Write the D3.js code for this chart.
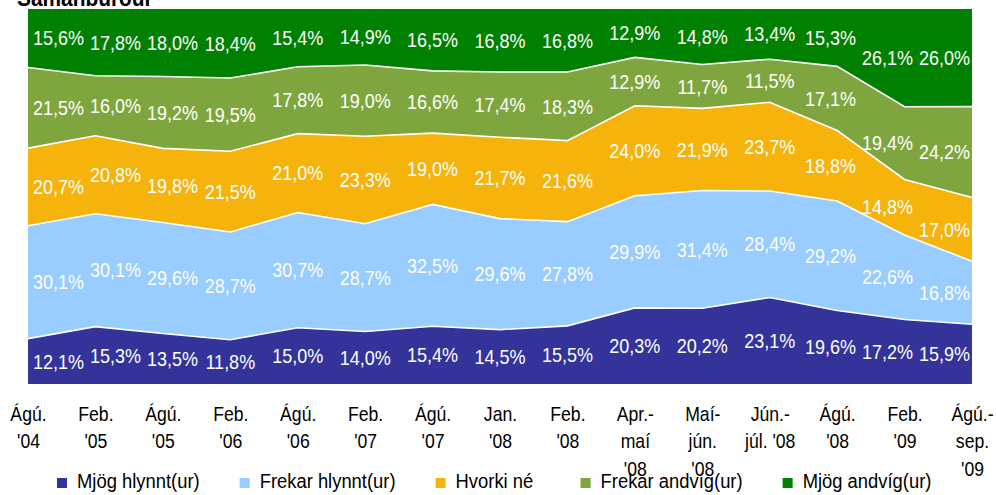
<!DOCTYPE html>
<html>
<head>
<meta charset="utf-8">
<script src="https://cdn.jsdelivr.net/npm/d3@7"></script>
<style>
  body { margin: 0; background: #fff; }
  svg text { font-family: "Liberation Sans", Arial, sans-serif; }
</style>
</head>
<body>
<svg id="chart" width="996" height="495"></svg>
<script>
// x categories (survey periods), each split into its lines
const periods = [
    ["Ágú.", "'04"], ["Feb.", "'05"], ["Ágú.", "'05"], ["Feb.", "'06"], ["Ágú.", "'06"],
    ["Feb.", "'07"], ["Ágú.", "'07"], ["Jan.", "'08"], ["Feb.", "'08"], ["Apr.-", "maí", "'08"],
    ["Maí-", "jún.", "'08"], ["Jún.-", "júl. '08"], ["Ágú.", "'08"], ["Feb.", "'09"], ["Ágú.-", "sep.", "'09"]
];

const seriesNames = ["Mjög hlynnt(ur)", "Frekar hlynnt(ur)", "Hvorki né", "Frekar andvíg(ur)", "Mjög andvíg(ur)"];

// percentages, bottom series first
const mjogHlynnt    = [12.1, 15.3, 13.5, 11.8, 15.0, 14.0, 15.4, 14.5, 15.5, 20.3, 20.2, 23.1, 19.6, 17.2, 15.9];
const frekarHlynnt  = [30.1, 30.1, 29.6, 28.7, 30.7, 28.7, 32.5, 29.6, 27.8, 29.9, 31.4, 28.4, 29.2, 22.6, 16.8];
const hvorkiNe      = [20.7, 20.8, 19.8, 21.5, 21.0, 23.3, 19.0, 21.7, 21.6, 24.0, 21.9, 23.7, 18.8, 14.8, 17.0];
const frekarAndvig  = [21.5, 16.0, 19.2, 19.5, 17.8, 19.0, 16.6, 17.4, 18.3, 12.9, 11.7, 11.5, 17.1, 19.4, 24.2];
const mjogAndvig    = [15.6, 17.8, 18.0, 18.4, 15.4, 14.9, 16.5, 16.8, 16.8, 12.9, 14.8, 13.4, 15.3, 26.1, 26.0];

const seriesValues = [mjogHlynnt, frekarHlynnt, hvorkiNe, frekarAndvig, mjogAndvig];

const title = "Samanburður";

/** 100% stacked area chart */
class StackChart {
    constructor(svg) {
        this.svg = svg;
        this.plot = {left: 28, right: 972, top: 9, bottom: 384};

        // the original text is a bit narrow, squeeze it horizontally
        this.squeeze = 0.88;

        this.rows = periods.map((p, i) => {
            const r = {i: i};
            seriesNames.forEach((k, j) => r[k] = seriesValues[j][i]);
            return r;
        });
        this.series = d3.stack().keys(seriesNames).offset(d3.stackOffsetExpand)(this.rows);

        this.x = d3.scalePoint().domain(d3.range(periods.length)).range([this.plot.left, this.plot.right]);
        this.y = d3.scaleLinear().domain([0, 1]).range([this.plot.bottom, this.plot.top]);
        this.color = d3.scaleOrdinal().domain(seriesNames)
            .range(["#333399", "#99ccff", "#f5b30c", "#7fa63e", "#008000"]);

        this.fmt = d3.formatLocale({decimal: ",", thousands: ".", grouping: [3], currency: ["", ""]}).format(".1f");
    }

    drawAreas() {
        const area = d3.area()
            .x(d => this.x(d.data.i))
            .y0(d => this.y(d[0]))
            .y1(d => this.y(d[1]));

        this.svg.append("g").selectAll("path")
            .data(this.series)
            .join("path")
            .attr("d", area)
            .attr("fill", d => this.color(d.key));

        // white line on top of every band except the last one
        const line = d3.line()
            .x(d => this.x(d.data.i))
            .y(d => this.y(d[1]));
        this.svg.append("g").selectAll("path")
            .data(this.series.slice(0, -1))
            .join("path")
            .attr("d", line)
            .attr("fill", "none")
            .attr("stroke", "#fff")
            .attr("stroke-width", 1.6);
    }

    drawLabels() {
        const lo = this.plot.left + 5, hi = this.plot.right - 2, gap = 6;
        const sx = 0.9;

        this.series.forEach(s => {
            const g = this.svg.append("g");
            const labels = s.map((d, i) => {
                const cell = g.append("g");
                const t = cell.append("text")
                    .attr("transform", `scale(${sx},1)`)
                    .attr("text-anchor", "middle")
                    .attr("dy", "0.36em")
                    .attr("fill", "#fff")
                    .style("font-size", "20px")
                    .text(this.fmt(seriesValues[s.index][i]) + "%");
                return {
                    cell: cell,
                    w: t.node().getComputedTextLength() * sx,
                    cx: this.x(d.data.i),
                    cy: this.y((d[0] + d[1]) / 2)
                };
            });

            // keep inside the plot and push neighbours apart
            labels.forEach((l, i) => {
                const min = i == 0 ? lo + l.w / 2 : labels[i - 1].cx + labels[i - 1].w / 2 + gap + l.w / 2;
                l.cx = Math.max(l.cx, min);
            });
            for (let i = labels.length - 1; i >= 0; i--) {
                const l = labels[i];
                const max = i == labels.length - 1 ? hi - l.w / 2 : labels[i + 1].cx - labels[i + 1].w / 2 - gap - l.w / 2;
                l.cx = Math.min(l.cx, max);
            }
            labels.forEach(l => l.cell.attr("transform", `translate(${l.cx},${l.cy})`));
        });
    }

    drawAxis() {
        const ax = this.svg.append("g")
            .attr("transform", `translate(0,${this.plot.bottom})`)
            .call(d3.axisBottom(this.x).tickSize(0).tickFormat(""));
        ax.select(".domain").remove();
        ax.selectAll(".tick text").remove();

        const t = ax.selectAll(".tick")
            .append("text")
            .attr("transform", "scale(0.86,1)")
            .attr("text-anchor", "middle")
            .attr("fill", "#000")
            .style("font-size", "20.5px");
        t.selectAll("tspan")
            .data(d => periods[d])
            .join("tspan")
            .attr("x", 0)
            .attr("y", (d, k) => 37 + k * 27.5)
            .text(d => d);
    }

    drawLegend() {
        const lg = this.svg.append("g").attr("transform", "translate(57,488)");
        let x = 0;
        seriesNames.forEach(name => {
            const item = lg.append("g").attr("transform", `translate(${x},0)`);
            item.append("rect")
                .attr("x", 0).attr("y", -10)
                .attr("width", 10).attr("height", 10)
                .attr("fill", this.color(name));
            const t = item.append("text")
                .attr("transform", "translate(20,0) scale(0.876,1)")
                .attr("fill", "#000")
                .style("font-size", "21px")
                .text(name);
            const w = t.node().getComputedTextLength() * 0.876;
            x += 20 + Math.max(w, 85) + 40;
        });
    }

    drawTitle() {
        this.svg.append("g")
            .attr("transform", "translate(17,5.5)")
            .append("text")
            .attr("transform", "scale(0.87,1)")
            .style("font-size", "24px")
            .style("font-weight", "bold")
            .attr("fill", "#000")
            .text(title);
    }
}

const chart = new StackChart(d3.select("#chart"));
chart.drawAreas();
chart.drawLabels();
chart.drawAxis();
chart.drawLegend();
chart.drawTitle();
</script>
</body>
</html>
